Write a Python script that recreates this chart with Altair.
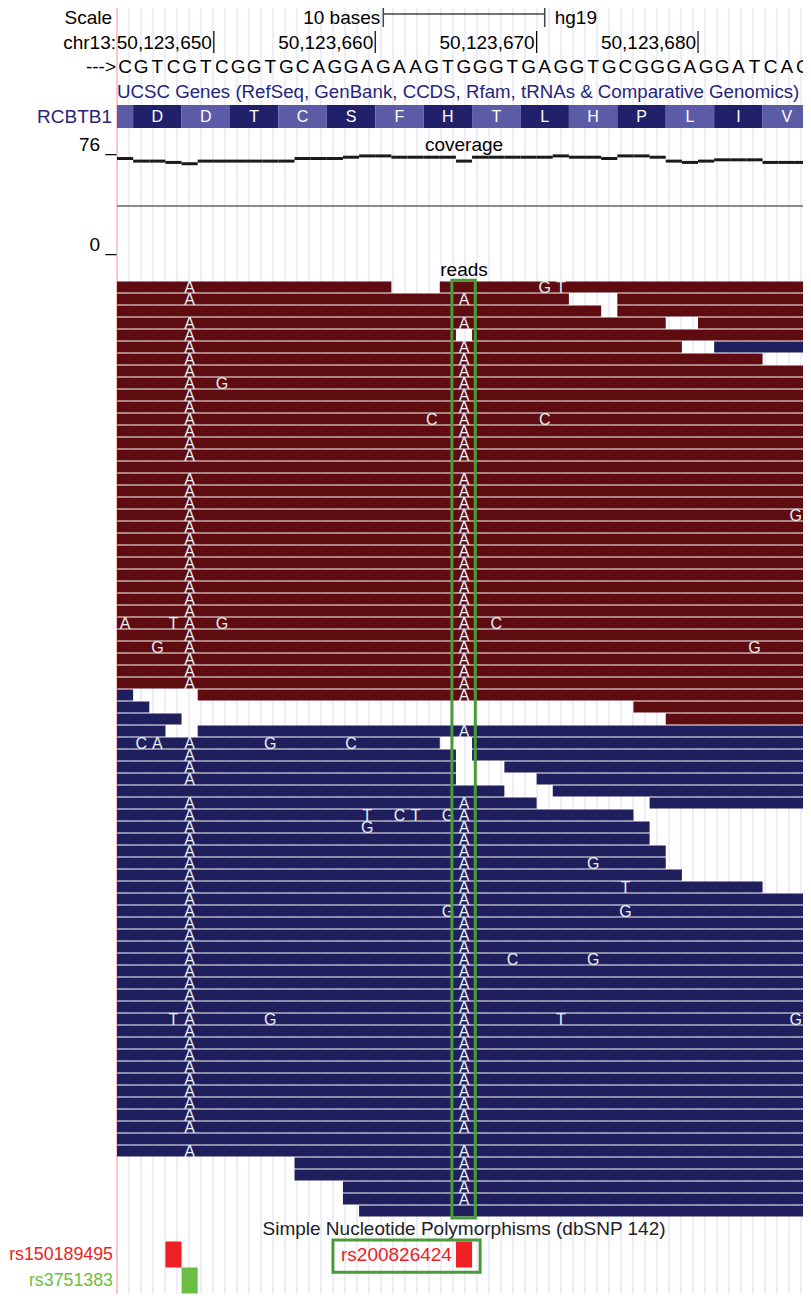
import altair as alt
import pandas as pd

# ---------------- data ----------------
WIN_START = 50123644          # genomic coordinate at the left edge of the window
ref_seq = list("CGTCGTCGGTGCAGGAGAAGTGGGTGAGGTGCGGGAGGATCAC")
ruler_pos = [50123650, 50123660, 50123670, 50123680]
ruler_text = ["50,123,650", "50,123,660", "50,123,670", "50,123,680"]
scale_bar_bases = 10

codon_start = [0, 1, 4, 7, 10, 13, 16, 19, 22, 25, 28, 31, 34, 37, 40]
codon_end = [1, 4, 7, 10, 13, 16, 19, 22, 25, 28, 31, 34, 37, 40, 43]
codon_aa = ["", "D", "D", "T", "C", "S", "F", "H", "T", "L", "H", "P", "L", "I", "V"]
codon_shade = ["light", "dark", "light", "dark", "light", "dark", "light", "dark",
               "light", "dark", "light", "dark", "light", "dark", "light"]

coverage = [71, 69, 69, 68, 67, 69, 69, 69, 69, 69, 69, 71, 71, 71, 72, 73, 73, 72,
            72, 72, 72, 69, 72, 72, 72, 72, 72, 73, 72, 72, 71, 73, 73, 72, 69, 68,
            69, 70, 70, 70, 68, 68, 68]
COV_MAX = 76

N_ROWS = 78
# (row, start base, end base, strand)
read_segments = [
    (0, 0, 17, "+"), (0, 20, 43, "+"),
    (1, 0, 28, "+"), (1, 31, 43, "+"),
    (2, 0, 30, "+"), (2, 31, 43, "+"),
    (3, 0, 34, "+"), (3, 36, 43, "+"),
    (4, 0, 21, "+"), (4, 22, 43, "+"),
    (5, 0, 35, "+"), (5, 37, 43, "-"),
    (6, 0, 40, "+"),
    (7, 0, 43, "+"), (8, 0, 43, "+"), (9, 0, 43, "+"), (10, 0, 43, "+"),
    (11, 0, 43, "+"), (12, 0, 43, "+"), (13, 0, 43, "+"), (14, 0, 43, "+"),
    (15, 0, 43, "+"), (16, 0, 43, "+"), (17, 0, 43, "+"), (18, 0, 43, "+"),
    (19, 0, 43, "+"), (20, 0, 43, "+"), (21, 0, 43, "+"), (22, 0, 43, "+"),
    (23, 0, 43, "+"), (24, 0, 43, "+"), (25, 0, 43, "+"), (26, 0, 43, "+"),
    (27, 0, 43, "+"), (28, 0, 43, "+"), (29, 0, 43, "+"), (30, 0, 43, "+"),
    (31, 0, 43, "+"), (32, 0, 43, "+"), (33, 0, 43, "+"),
    (34, 0, 1, "-"), (34, 5, 43, "+"),
    (35, 0, 2, "-"), (35, 32, 43, "+"),
    (36, 0, 4, "-"), (36, 34, 43, "+"),
    (37, 0, 3, "-"), (37, 5, 43, "-"),
    (38, 0, 20, "-"), (38, 22, 43, "-"),
    (39, 0, 21, "-"), (39, 22, 43, "-"),
    (40, 0, 21, "-"), (40, 24, 43, "-"),
    (41, 0, 21, "-"), (41, 26, 43, "-"),
    (42, 0, 24, "-"), (42, 27, 43, "-"),
    (43, 0, 26, "-"), (43, 33, 43, "-"),
    (44, 0, 32, "-"), (45, 0, 33, "-"), (46, 0, 33, "-"), (47, 0, 34, "-"),
    (48, 0, 34, "-"), (49, 0, 35, "-"), (50, 0, 40, "-"),
    (51, 0, 43, "-"), (52, 0, 43, "-"), (53, 0, 43, "-"), (54, 0, 43, "-"),
    (55, 0, 43, "-"), (56, 0, 43, "-"), (57, 0, 43, "-"), (58, 0, 43, "-"),
    (59, 0, 43, "-"), (60, 0, 43, "-"), (61, 0, 43, "-"), (62, 0, 43, "-"),
    (63, 0, 43, "-"), (64, 0, 43, "-"), (65, 0, 43, "-"), (66, 0, 43, "-"),
    (67, 0, 43, "-"), (68, 0, 43, "-"), (69, 0, 43, "-"), (70, 0, 43, "-"),
    (71, 0, 43, "-"), (72, 0, 43, "-"),
    (73, 11, 43, "-"), (74, 11, 43, "-"), (75, 14, 43, "-"), (76, 14, 43, "-"),
    (77, 15, 43, "-"),
]

# rows carrying the G>A at base 4 and the G>A at base 21 (rs200826424)
rows_A_at_4 = [0, 1, 3, 4, 5, 6, 7, 8, 9, 10, 11, 12, 13, 14, 16, 17, 18, 19, 20,
               21, 22, 23, 24, 25, 26, 27, 28, 29, 30, 31, 32, 33, 38, 39, 40, 41,
               43, 44, 45, 46, 47, 48, 49, 50, 51, 52, 53, 54, 55, 56, 57, 58, 59,
               60, 61, 62, 63, 64, 65, 66, 67, 68, 69, 70, 72]
rows_A_at_21 = [1, 3, 5, 6, 7, 8, 9, 10, 11, 12, 13, 14, 16, 17, 18, 19, 20, 21,
                22, 23, 24, 25, 26, 27, 28, 29, 30, 31, 32, 33, 34, 37, 43, 44, 45,
                46, 47, 48, 49, 50, 51, 52, 53, 54, 55, 56, 57, 58, 59, 60, 61, 62,
                63, 64, 65, 66, 67, 68, 69, 70, 72, 73, 74, 75, 76]
# (row, base, read base)
other_mismatches = [
    (0, 26, "G"), (0, 27, "T"),
    (8, 6, "G"),
    (11, 19, "C"), (11, 26, "C"),
    (19, 42, "G"),
    (28, 0, "A"), (28, 3, "T"), (28, 6, "G"), (28, 23, "C"),
    (30, 2, "G"), (30, 39, "G"),
    (38, 1, "C"), (38, 2, "A"), (38, 9, "G"), (38, 14, "C"),
    (44, 15, "T"), (44, 17, "C"), (44, 18, "T"), (44, 20, "G"),
    (45, 15, "G"),
    (48, 29, "G"),
    (50, 31, "T"),
    (52, 20, "G"), (52, 31, "G"),
    (56, 24, "C"), (56, 29, "G"),
    (61, 3, "T"), (61, 9, "G"), (61, 27, "T"), (61, 42, "G"),
]

snp_name = ["rs150189495", "rs200826424", "rs3751383"]
snp_base = [3, 21, 4]
snp_row = [0, 0, 1]
snp_kind = ["red", "red", "green"]
snp_label_in_margin = [True, False, True]

# ---------------- layout / style ----------------
FONT = "Liberation Sans"
PX_PER_BASE = 694 / 43        # reference resolution
W, H = 686, 1286               # plot area (page is 811 wide incl. 8px margins)
OFF = 8                        # page offset of chart origin
N = len(ref_seq)
X_END = W / PX_PER_BASE
EDGE_LETTER = X_END - 0.45     # keep read letters of the last (partly hidden) base inside the view
RED_READ, BLUE_READ = "#5E0C10", "#1F1F5D"
GENE_DARK, GENE_LIGHT, GENE_TEXT = "#21216B", "#5B5BA8", "#25257A"
GREEN_BOX = "#4A9A3A"
SNP_RED, SNP_GREEN = "#EE2024", "#6CBF45"

xs = alt.Scale(domain=[0, X_END], range=[0, W], nice=False, zero=False)


def X(f):
    return alt.X(f"{f}:Q", scale=xs, axis=None)


def X2(f):
    return alt.X2(f"{f}:Q")


def Y(ref_y):
    return alt.value(ref_y - OFF)


def text_layer(df, **mark):
    base = dict(font=FONT, fontSize=19, color="#000000", baseline="middle")
    base.update(mark)
    return alt.Chart(df).mark_text(**base)


layers = []

# guidelines (every 12 px) and left red line
guides = pd.DataFrame({"u": [12 * (k + 1) / PX_PER_BASE for k in range(int((W - 1) // 12))]})
layers.append(alt.Chart(guides).mark_rule(color="#DCDCF0", strokeWidth=1).encode(
    x=X("u"), y=alt.value(0), y2=alt.value(H)))
layers.append(alt.Chart(pd.DataFrame({"u": [0]})).mark_rule(color="#F4A4A4", strokeWidth=1.2).encode(
    x=X("u"), y=alt.value(0), y2=alt.value(H)))

# --- scale bar ---
mid = N / 2
sb = pd.DataFrame({"a": [mid - scale_bar_bases / 2], "b": [mid + scale_bar_bases / 2]})
layers.append(alt.Chart(sb).mark_rule(color="#444444", strokeWidth=1.5).encode(
    x=X("a"), x2=X2("b"), y=Y(14)))
sb_ends = pd.DataFrame({"u": [mid - scale_bar_bases / 2, mid + scale_bar_bases / 2]})
layers.append(alt.Chart(sb_ends).mark_rule(color="#444444", strokeWidth=1.5).encode(
    x=X("u"), y=alt.value(0), y2=Y(27)))
layers.append(text_layer(pd.DataFrame({"t": ["Scale"]}), align="right").encode(
    x=alt.value(-5), y=Y(18), text="t:N"))
layers.append(text_layer(pd.DataFrame({"t": [f"{scale_bar_bases} bases"], "u": [mid - scale_bar_bases / 2]}),
                         align="right", dx=-3).encode(x=X("u"), y=Y(18), text="t:N"))
layers.append(text_layer(pd.DataFrame({"t": ["hg19"], "u": [mid + scale_bar_bases / 2]}),
                         align="left", dx=10).encode(x=X("u"), y=Y(18), text="t:N"))

# --- ruler ---
ruler = pd.DataFrame({"u": [p - WIN_START for p in ruler_pos], "t": ruler_text})
layers.append(alt.Chart(ruler).mark_rule(color="#000000", strokeWidth=1.2).encode(
    x=X("u"), y=Y(31), y2=Y(53)))
layers.append(text_layer(ruler, align="right", dx=-2).encode(x=X("u"), y=Y(43), text="t:N"))
layers.append(text_layer(pd.DataFrame({"t": ["chr13:"]}), align="right").encode(
    x=alt.value(-1), y=Y(43), text="t:N"))

# --- sequence ---
seq = pd.DataFrame({"u": [i + 0.5 for i in range(N)], "b": ref_seq})
layers.append(text_layer(seq, align="center").encode(x=X("u"), y=Y(67), text="b:N"))
layers.append(text_layer(pd.DataFrame({"t": ["--->"]}), align="right").encode(
    x=alt.value(-1), y=Y(67), text="t:N"))

# --- gene track ---
layers.append(text_layer(pd.DataFrame({"t": ["UCSC Genes (RefSeq, GenBank, CCDS, Rfam, tRNAs & Comparative Genomics)"],
                                       "u": [0]}), align="left", color=GENE_TEXT, fontSize=18.7).encode(
    x=X("u"), y=Y(92), text="t:N"))
codons = pd.DataFrame({"s": codon_start, "e": codon_end, "aa": codon_aa, "shade": codon_shade})
codons["m"] = (codons["s"] + codons["e"]) / 2
layers.append(alt.Chart(codons).mark_rect().encode(
    x=X("s"), x2=X2("e"), y=Y(105), y2=Y(128),
    color=alt.Color("shade:N", scale=alt.Scale(domain=["dark", "light"], range=[GENE_DARK, GENE_LIGHT]), legend=None)))
layers.append(text_layer(codons, align="center", color="#FFFFFF", fontSize=16).encode(
    x=X("m"), y=Y(117), text="aa:N"))
layers.append(text_layer(pd.DataFrame({"t": ["RCBTB1"]}), align="right", color=GENE_TEXT).encode(
    x=alt.value(-5), y=Y(117), text="t:N"))

# --- coverage ---
cov = pd.DataFrame({"s": list(range(N)), "v": coverage})
cov["e"] = cov["s"] + 1
cov_scale = alt.Scale(domain=[0, COV_MAX], range=[251 - OFF, 152 - OFF], nice=False, zero=False)
layers.append(alt.Chart(cov).mark_rule(color="#1A1A1A", strokeWidth=3).encode(
    x=X("s"), x2=X2("e"), y=alt.Y("v:Q", scale=cov_scale, axis=None)))
layers.append(alt.Chart(pd.DataFrame({"a": [0], "b": [N]})).mark_rule(color="#8A8A8A", strokeWidth=2).encode(
    x=X("a"), x2=X2("b"), y=Y(206)))
layers.append(text_layer(pd.DataFrame({"t": [f"{COV_MAX} _", "0 _"], "yy": [145 - OFF, 245 - OFF]}),
                         align="right").encode(x=alt.value(-1), y=alt.Y("yy:Q", scale=None), text="t:N"))
layers.append(text_layer(pd.DataFrame({"t": ["coverage"], "u": [mid]}), align="center").encode(
    x=X("u"), y=Y(145), text="t:N"))
layers.append(text_layer(pd.DataFrame({"t": ["reads"], "u": [mid]}), align="center").encode(
    x=X("u"), y=Y(270), text="t:N"))

# --- reads ---
ROW_TOP, ROW_PITCH = 281.5, 12
rows_scale = alt.Scale(domain=[0, N_ROWS], range=[ROW_TOP - OFF, ROW_TOP - OFF + ROW_PITCH * N_ROWS],
                       nice=False, zero=False)
reads = pd.DataFrame(read_segments, columns=["row", "s", "e", "strand"])
reads["row2"] = reads["row"] + 11 / ROW_PITCH
layers.append(alt.Chart(reads).mark_rect().encode(
    x=X("s"), x2=X2("e"),
    y=alt.Y("row:Q", scale=rows_scale, axis=None), y2=alt.Y2("row2:Q"),
    color=alt.Color("strand:N", scale=alt.Scale(domain=["+", "-"], range=[RED_READ, BLUE_READ]), legend=None)))

mm = ([(r, 4, "A") for r in rows_A_at_4] + [(r, 21, "A") for r in rows_A_at_21] + other_mismatches)
mmdf = pd.DataFrame(mm, columns=["row", "base", "b"])
mmdf["u"] = (mmdf["base"] + 0.5).clip(upper=EDGE_LETTER)
mmdf["ym"] = mmdf["row"] + 0.5
layers.append(text_layer(mmdf, align="center", color="#EEEEF6", fontSize=16).encode(
    x=X("u"), y=alt.Y("ym:Q", scale=rows_scale, axis=None), text="b:N"))

# highlight box around the SNP column
hl = pd.DataFrame({"a": [20.75], "b": [22.2], "y0": [-0.1], "y1": [N_ROWS + 0.05]})
layers.append(alt.Chart(hl).mark_rect(fillOpacity=0, stroke=GREEN_BOX, strokeWidth=3).encode(
    x=X("a"), x2=X2("b"), y=alt.Y("y0:Q", scale=rows_scale, axis=None), y2=alt.Y2("y1:Q")))

# --- SNP track ---
layers.append(text_layer(pd.DataFrame({"t": ["Simple Nucleotide Polymorphisms (dbSNP 142)"], "u": [mid]}),
                         align="center", color="#222222").encode(x=X("u"), y=Y(1229), text="t:N"))
snp_scale = alt.Scale(domain=[0, 2], range=[1241.5 - OFF, 1293.5 - OFF], nice=False, zero=False)
snps = pd.DataFrame({"name": snp_name, "s": snp_base, "row": snp_row, "kind": snp_kind,
                     "margin": snp_label_in_margin})
snps["e"] = snps["s"] + 1
snps["row2"] = snps["row"] + 1
snps["ym"] = snps["row"] + 0.5
kind_color = alt.Scale(domain=["red", "green"], range=[SNP_RED, SNP_GREEN])
layers.append(alt.Chart(snps).mark_rect().encode(
    x=X("s"), x2=X2("e"), y=alt.Y("row:Q", scale=snp_scale, axis=None), y2=alt.Y2("row2:Q"),
    color=alt.Color("kind:N", scale=kind_color, legend=None)))
layers.append(text_layer(snps[snps["margin"]], align="right", fontSize=17.8).encode(
    x=alt.value(-4), y=alt.Y("ym:Q", scale=snp_scale, axis=None), text="name:N",
    color=alt.Color("kind:N", scale=kind_color, legend=None)))
layers.append(text_layer(snps[~snps["margin"]], align="right", dx=-4).encode(
    x=X("s"), y=alt.Y("ym:Q", scale=snp_scale, axis=None), text="name:N",
    color=alt.Color("kind:N", scale=kind_color, legend=None)))
hl2 = pd.DataFrame({"a": [13.38], "b": [22.5], "y0": [-0.06], "y1": [1.18]})
layers.append(alt.Chart(hl2).mark_rect(fillOpacity=0, stroke=GREEN_BOX, strokeWidth=3).encode(
    x=X("a"), x2=X2("b"), y=alt.Y("y0:Q", scale=snp_scale, axis=None), y2=alt.Y2("y1:Q")))

chart = alt.layer(*layers).resolve_scale(y="independent", color="independent").properties(
    width=W, height=H,
    padding={"left": 109, "top": 0, "right": 0, "bottom": 0},
    autosize=alt.AutoSizeParams(type="none"),
    background="#FFFFFF",
).configure_view(stroke=None)

chart.save("out.html", embed_options={"renderer": "svg", "actions": False})
